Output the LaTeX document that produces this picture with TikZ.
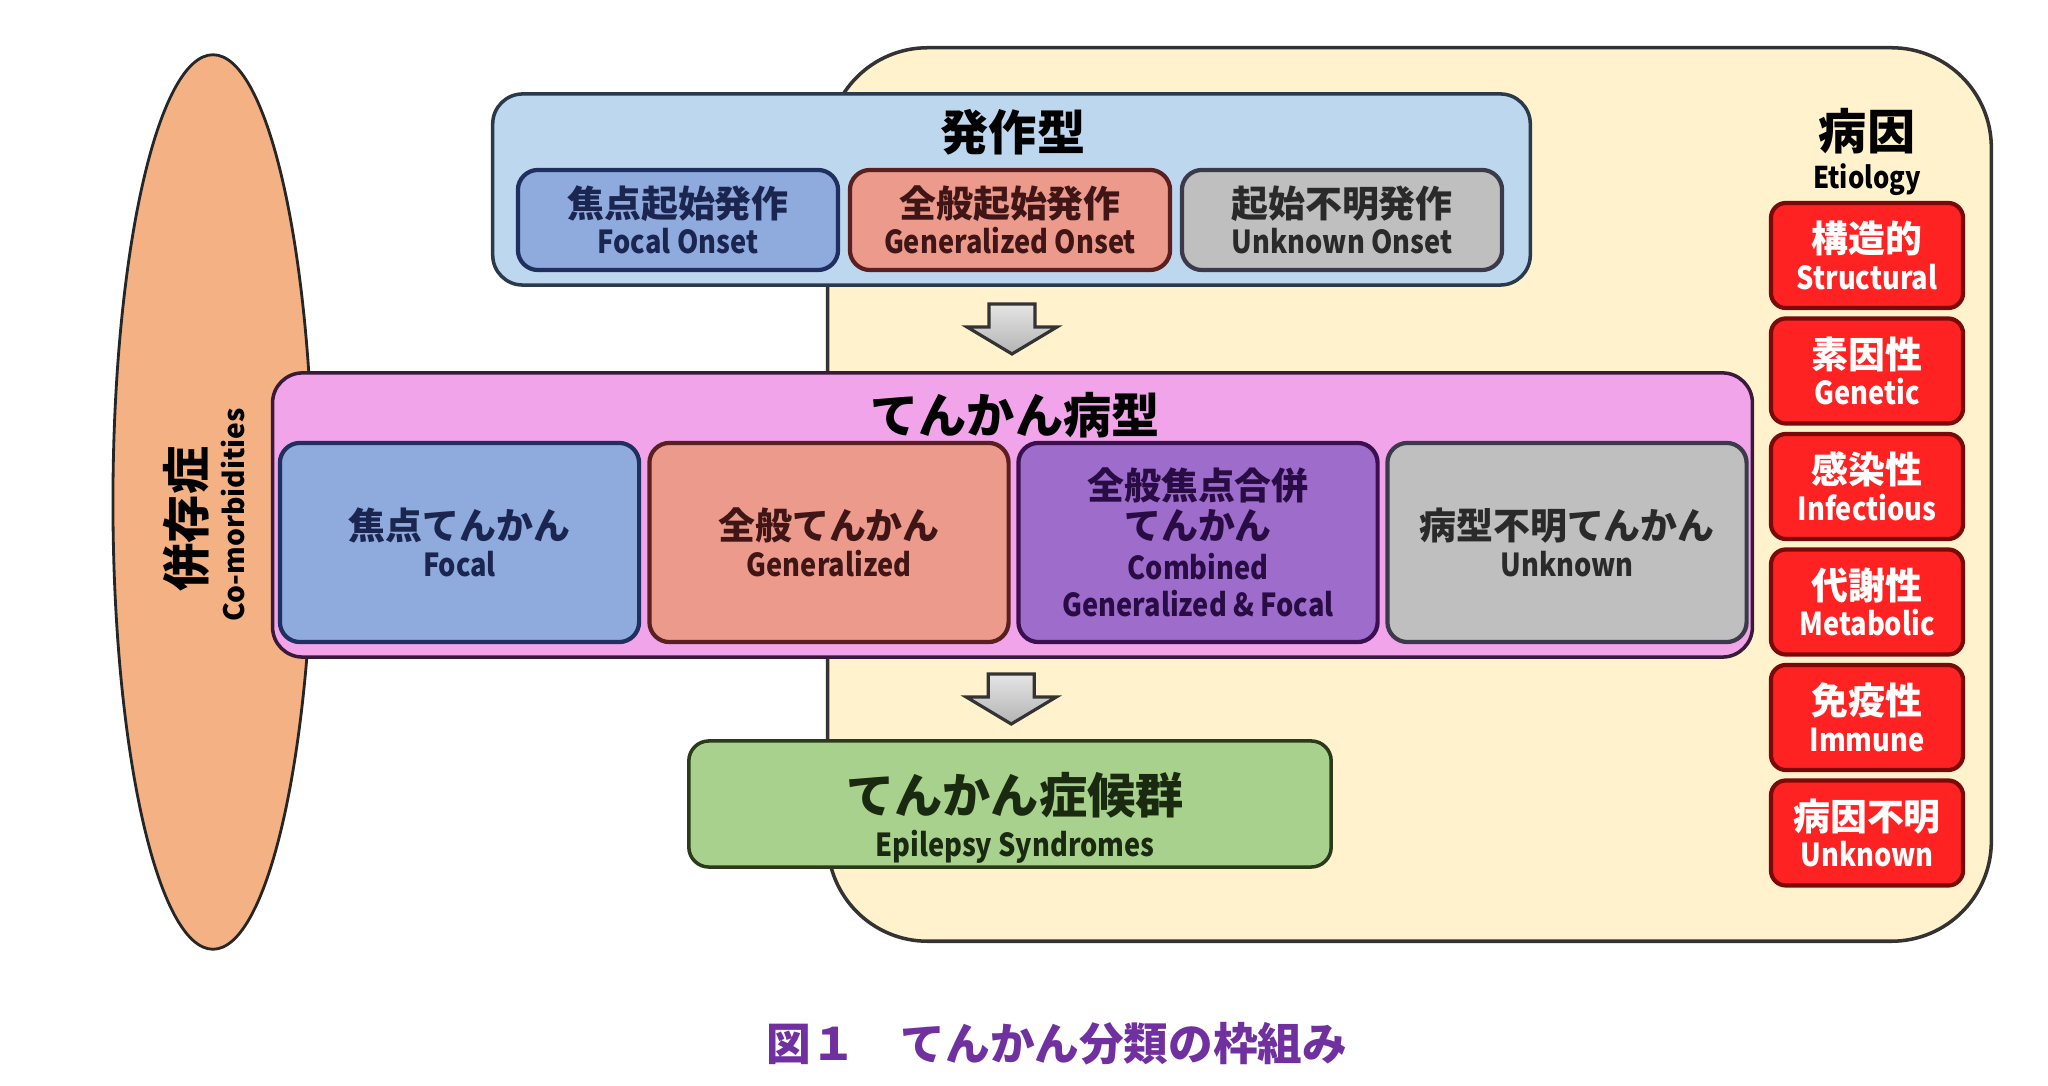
\documentclass[tikz,border=0pt]{standalone}
\usepackage{fontspec}
\setmainfont{Noto Sans CJK JP}
\newfontfamily\enfont{Noto Sans CJK JP}[FakeStretch=0.86]
\usetikzlibrary{shapes.geometric,calc}

\definecolor{beige}{HTML}{FFF2CC}
\definecolor{skyfill}{HTML}{BDD7EE}
\definecolor{skyline}{HTML}{2B3A4A}
\definecolor{focalfill}{HTML}{8FAADC}
\definecolor{focalline}{HTML}{1F2F5F}
\definecolor{focaltext}{HTML}{1A2550}
\definecolor{genfill}{HTML}{EC9A8C}
\definecolor{genline}{HTML}{5A2020}
\definecolor{gentext}{HTML}{401515}
\definecolor{unkfill}{HTML}{BFBFBF}
\definecolor{unkline}{HTML}{3A3A4A}
\definecolor{unktext}{HTML}{2A2A2A}
\definecolor{pinkfill}{HTML}{F2A4EA}
\definecolor{pinkline}{HTML}{3A1A3A}
\definecolor{combfill}{HTML}{9E6CCB}
\definecolor{combline}{HTML}{3A1050}
\definecolor{combtext}{HTML}{2A0C45}
\definecolor{redfill}{HTML}{FF2222}
\definecolor{redline}{HTML}{7A0A0A}
\definecolor{greenfill}{HTML}{A9D18E}
\definecolor{greenline}{HTML}{2A3A1A}
\definecolor{greentext}{HTML}{1A2A10}
\definecolor{orangefill}{HTML}{F4B183}
\definecolor{capcolor}{HTML}{7030A0}

\newcommand{\jptitle}{\fontsize{13.7}{14}\selectfont\bfseries}
\newcommand{\jpsub}{\fontsize{10.5}{10.4}\selectfont\bfseries}
\newcommand{\ensub}{\enfont\fontsize{9}{10.4}\selectfont\bfseries}
\newcommand{\comfont}{\fontsize{8}{9}\selectfont\bfseries}
\newcommand{\capfont}{\fontsize{12.7}{13}\selectfont\bfseries}

\begin{document}
\begin{tikzpicture}[x=0.01cm, y=-0.01cm,
  outer/.style={draw=black!80, line width=1pt, inner sep=0pt},
  subbox/.style={draw, line width=1.2pt, rounded corners=0.2cm, align=center, inner sep=0pt, font=\jpsub},
  redbox/.style={subbox, fill=redfill, draw=redline, text=white, rounded corners=0.15cm, minimum width=1.92cm, minimum height=1.05cm},
  title/.style={font=\jptitle, inner sep=0pt},
  flowarrow/.style={top color=gray!20, bottom color=gray!60, draw=gray!40!black, line width=0.9pt}]
\useasboundingbox (0,0) rectangle (2048,1086);

% etiology
\node[outer, fill=beige, rounded corners=1cm, minimum width=11.63cm, minimum height=8.93cm] (etio) at (1409.5,494.5) {};
\node[title, align=center] (etiotitle) at (1867,152) {病因\\[-3pt]{\ensub\fontsize{8.5}{10}\selectfont Etiology}};
\foreach \jp/\en [count=\i from 0] in {構造的/Structural, 素因性/Genetic, 感染性/Infectious, 代謝性/Metabolic, 免疫性/Immune, 病因不明/Unknown}
  \node[redbox] (cause\i) at (1867,255.5+115.5*\i) {\jp\\{\ensub \en}};

% comorbidities
\node[ellipse, draw=black!85, line width=0.8pt, fill=orangefill, minimum width=2cm, minimum height=8.94cm, inner sep=0pt] (comorb) at (213,502) {};
\node[title, rotate=90] (comorbjp) at (186,519) {併存症};
\node[rotate=90, font=\comfont, inner sep=0pt] (comorben) at (233,515) {Co-morbidities};

% seizure types
\node[outer, fill=skyfill, draw=skyline, rounded corners=0.3cm, minimum width=10.37cm, minimum height=1.91cm] (seiz) at (1011.5,189.5) {};
\node[title] (seiztitle) at (1013,132) {発作型};
\node[subbox, fill=focalfill, draw=focalline, text=focaltext, minimum width=3.2cm, minimum height=1cm] (focalon) at (678,220) {焦点起始発作\\{\ensub Focal Onset}};
\node[subbox, fill=genfill, draw=genline, text=gentext, minimum width=3.2cm, minimum height=1cm] (genon) at (1010,220) {全般起始発作\\{\ensub Generalized Onset}};
\node[subbox, fill=unkfill, draw=unkline, text=unktext, minimum width=3.2cm, minimum height=1cm] (unkon) at (1342,220) {起始不明発作\\{\ensub Unknown Onset}};

% epilepsy types
\node[outer, fill=pinkfill, draw=pinkline, rounded corners=0.3cm, minimum width=14.79cm, minimum height=2.84cm] (etype) at (1012.5,515) {};
\node[title] (etypetitle) at (1015,415) {てんかん病型};
\node[subbox, fill=focalfill, draw=focalline, text=focaltext, minimum width=3.59cm, minimum height=1.99cm] (focal) at (459.5,542.5) {焦点てんかん\\{\ensub Focal}};
\node[subbox, fill=genfill, draw=genline, text=gentext, minimum width=3.59cm, minimum height=1.99cm] (gen) at (829,542.5) {全般てんかん\\{\ensub Generalized}};
\node[subbox, fill=combfill, draw=combline, text=combtext, minimum width=3.59cm, minimum height=1.99cm] (comb) at (1198,542.5) {全般焦点合併\\[1pt]てんかん\\[1pt]{\ensub Combined}\\{\ensub Generalized \& Focal}};
\node[subbox, fill=unkfill, draw=unkline, text=unktext, minimum width=3.59cm, minimum height=1.99cm] (unk) at (1567,542.5) {病型不明てんかん\\{\ensub Unknown}};

% syndromes
\node[subbox, fill=greenfill, draw=greenline, text=greentext, line width=1pt, minimum width=6.42cm, minimum height=1.26cm] (synd) at (1010,804) {};
\node[title, text=greentext, align=center] (syndtitle) at (1015,818) {てんかん症候群\\[-1.6pt]{\ensub Epilepsy Syndromes}};

% block arrows
\foreach \from/\to in {seiz/etype, etype/synd}
{
  \coordinate (mid) at ($(\from.south)!0.5!(\to.north)$);
  \begin{scope}[shift={(mid)}]
    \shade[flowarrow] (-23,-25) -- (23,-25) -- (23,-2) -- (45,-2) -- (0,25) -- (-45,-2) -- (-23,-2) -- cycle;
  \end{scope}
}

\node[font=\capfont, text=capcolor] (caption) at (1057,1044) {図１　てんかん分類の枠組み};
\end{tikzpicture}
\end{document}
